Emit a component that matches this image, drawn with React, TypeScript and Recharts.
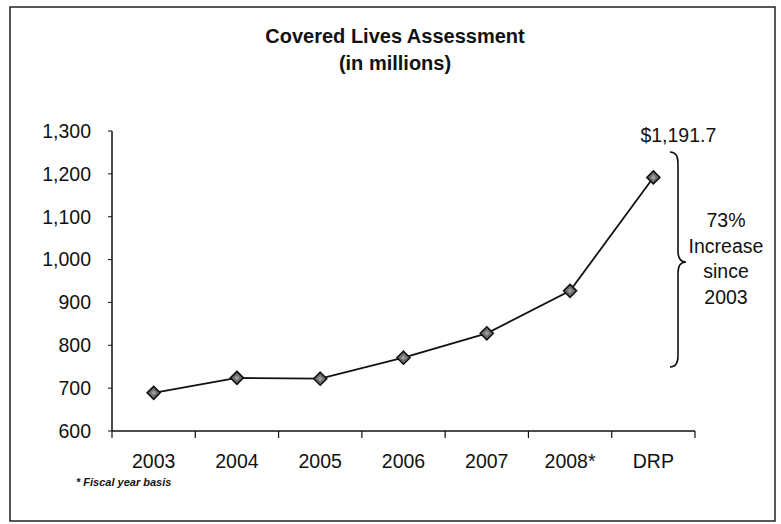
import React from 'react';
import { LineChart, Line, XAxis, YAxis, LabelList } from 'recharts';

const categories = ['2003', '2004', '2005', '2006', '2007', '2008*', 'DRP'];
const values = [689, 724, 722, 771, 828, 927, 1191.7];
const yTicks = [600, 700, 800, 900, 1000, 1100, 1200, 1300];
const titleLines = ['Covered Lives Assessment', '(in millions)'];
const noteLines = ['73%', 'Increase', 'since', '2003'];
const footnote = '* Fiscal year basis';

const data = categories.map((c, i) => ({ cat: c, value: values[i] }));

const FONT = '"Liberation Sans", Arial, sans-serif';
const W = 781;
const H = 524;
const PLOT_LEFT = 112;
const PLOT_RIGHT = 695;

const fmt = (v: number) => v.toLocaleString('en-US');

const XTick = (props: any) => {
  const { x, y, payload, index } = props;
  const band = (PLOT_RIGHT - PLOT_LEFT) / categories.length;
  const off = payload && payload.offset ? payload.offset : band / 2;
  return (
    <g>
      <line x1={x - off} x2={x - off} y1={y} y2={y + 7} stroke="#111" strokeWidth={1.2} />
      {index === categories.length - 1 && (
        <line x1={x + off} x2={x + off} y1={y} y2={y + 7} stroke="#111" strokeWidth={1.2} />
      )}
      <text x={x} y={y + 37} textAnchor="middle" fontFamily={FONT} fontSize={19.5} fill="#111">
        {payload.value}
      </text>
    </g>
  );
};

const Diamond = (props: any) => {
  const { cx, cy } = props;
  if (cx == null || cy == null) return null;
  const r = 6.5;
  return (
    <g>
      <path
        d={`M${cx},${cy - r} L${cx + r},${cy} L${cx},${cy + r} L${cx - r},${cy} Z`}
        fill="#6e6e6e"
        stroke="#111"
        strokeWidth={1.6}
      />
      <path
        d={`M${cx},${cy - 2.5} L${cx + 2.5},${cy} L${cx},${cy + 2.5} L${cx - 2.5},${cy} Z`}
        fill="#9a9a9a"
        stroke="none"
      />
    </g>
  );
};

const LastLabel = (props: any) => {
  const { x, y, index, value } = props;
  if (index !== values.length - 1) return null;
  return (
    <text x={x + 25} y={y - 35} textAnchor="middle" fontFamily={FONT} fontSize={19.5} fill="#111">
      {'$' + Number(value).toLocaleString('en-US', { minimumFractionDigits: 1, maximumFractionDigits: 1 })}
    </text>
  );
};

export default function App() {
  return (
    <div style={{ position: 'absolute', left: 0, top: 0, width: W, height: H, background: '#fff' }}>
      <LineChart
        width={W}
        height={H}
        data={data}
        margin={{ top: 131, right: W - PLOT_RIGHT, bottom: 33, left: 12 }}
      >
        <XAxis
          dataKey="cat"
          scale="band"
          type="category"
          height={60}
          axisLine={{ stroke: '#111', strokeWidth: 1.5 }}
          tickLine={false}
          tickSize={0}
          tickMargin={0}
          interval={0}
          tick={<XTick />}
        />
        <YAxis
          width={100}
          domain={[600, 1300]}
          ticks={yTicks}
          interval={0}
          tickFormatter={fmt}
          axisLine={{ stroke: '#111', strokeWidth: 1.5 }}
          tickLine={{ stroke: '#111' }}
          tickSize={4}
          tickMargin={17}
          tick={{ fontFamily: FONT, fontSize: 19.5, fill: '#111' }}
        />
        <Line
          type="linear"
          dataKey="value"
          stroke="#111"
          strokeWidth={1.8}
          dot={<Diamond />}
          activeDot={false}
          isAnimationActive={false}
        >
          <LabelList dataKey="value" content={<LastLabel />} />
        </Line>
      </LineChart>
      <svg
        width={W}
        height={H}
        style={{ position: 'absolute', left: 0, top: 0, pointerEvents: 'none' }}
      >
        <rect x={10} y={7} width={765} height={514} fill="none" stroke="#222" strokeWidth={1.5} />
        <text x={395} y={43} textAnchor="middle" fontFamily={FONT} fontWeight="bold" fontSize={20} fill="#111">
          {titleLines[0]}
        </text>
        <text x={395} y={70} textAnchor="middle" fontFamily={FONT} fontWeight="bold" fontSize={20} fill="#111">
          {titleLines[1]}
        </text>
        <path
          d="M670,152 Q678,152 678,163 L678,251 Q678,262 686,262 Q678,262 678,273 L678,356 Q678,367 670,367"
          fill="none"
          stroke="#111"
          strokeWidth={1.6}
        />
        {noteLines.map((t, i) => (
          <text key={t} x={726} y={227 + i * 25.7} textAnchor="middle" fontFamily={FONT} fontSize={19.5} fill="#111">
            {t}
          </text>
        ))}
        <text x={76} y={486} fontFamily={FONT} fontStyle="italic" fontWeight="bold" fontSize={11} fill="#111">
          {footnote}
        </text>
      </svg>
    </div>
  );
}
